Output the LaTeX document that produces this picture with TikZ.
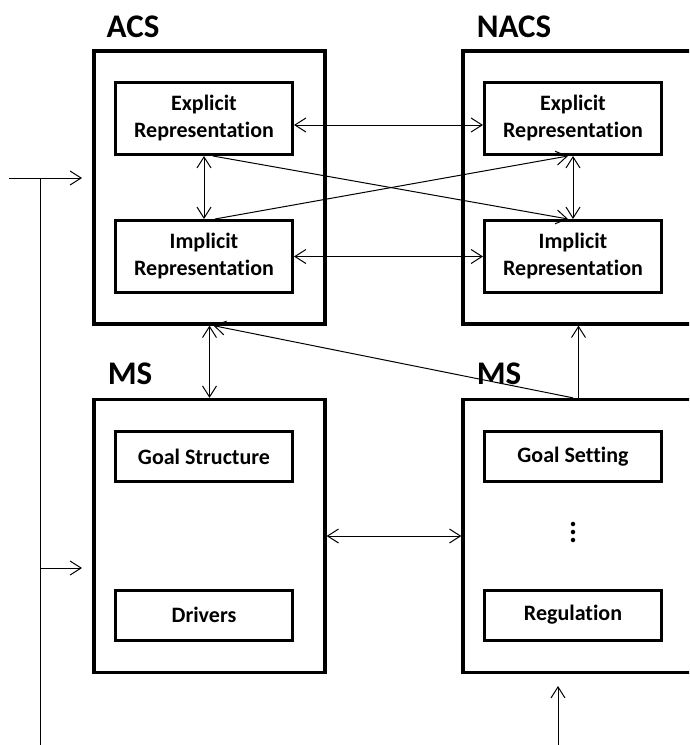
\documentclass[tikz,border=0pt]{standalone}
\usepackage{fontspec}
\setmainfont[Ligatures=NoCommon]{Carlito}
\usetikzlibrary{arrows.meta}
\begin{document}
\begin{tikzpicture}[x=1pt,y=-1pt,
  outerbox/.style={draw,line width=3.3pt,minimum width=231pt,minimum height=273pt,inner sep=0pt},
  innerbox/.style={draw,line width=3pt,minimum width=177pt,minimum height=72pt,align=center,inner sep=0pt,
     font=\fontsize{22}{27}\selectfont\bfseries},
  smallbox/.style={innerbox,minimum height=50pt},
  title/.style={font=\fontsize{33}{33}\selectfont\bfseries,inner sep=0pt},
  dot/.style={circle,fill,inner sep=0pt,minimum size=4.5pt},
  conn/.style={line width=1pt,-{Straight Barb[length=11pt,width=14pt,line width=1pt]}},
  dconn/.style={line width=1pt,{Straight Barb[length=11pt,width=14pt,line width=1pt]}-{Straight Barb[length=11pt,width=14pt,line width=1pt]}},
  plain/.style={line width=1pt}]
\useasboundingbox (0,0) rectangle (689,745);
\clip (0,0) rectangle (689,745);
\fill[white] (0,0) rectangle (689,745);
% outer boxes
\node[outerbox] (acs) at (209.5,187.5) {};
\node[outerbox] (nacs) at (578.5,187.5) {};
\node[outerbox] (ms) at (209.5,536) {};
\node[outerbox] (msr) at (578.5,536) {};
% titles
\node[title] (tacs) at (133,27) {ACS};
\node[title] (tnacs) at (514,27) {NACS};
\node[title] (tms) at (130,374) {MS};
\node[title] (tmsr) at (499,374) {MS};
% inner boxes
\node[innerbox] (ae) at (204,118.5) {Explicit\\Representation};
\node[innerbox] (ai) at (204,256.5) {Implicit\\Representation};
\node[innerbox] (ne) at (573,118.5) {Explicit\\Representation};
\node[innerbox] (ni) at (573,256.5) {Implicit\\Representation};
\node[smallbox] (gs) at (204,456.5) {Goal Structure};
\node[smallbox] (dr) at (204,615) {Drivers};
\node[smallbox] (gset) at (573,456.5) {Goal Setting};
\node[smallbox] (reg) at (573,615) {Regulation};
\node[dot] (d1) at (573,524) {};
\node[dot] (d2) at (573,532) {};
\node[dot] (d3) at (573,540) {};
% connectors within
\draw[dconn] ([yshift=-6.5pt]ae.east) -- ([yshift=-6.5pt]ne.west);
\draw[dconn] (ai.east) -- (ni.west);
\draw[dconn] (ae.south) -- (ai.north);
\draw[dconn] (ne.south) -- (ni.north);
\draw[conn] ([xshift=9pt]ae.south) -- ([xshift=-5pt]ni.north);
\draw[conn] ([xshift=11pt]ai.north) -- ([xshift=-5pt]ne.south);
% between layers
\draw[dconn] (acs.south) -- (ms.north);
\draw[conn] ([xshift=-5.5pt]msr.north) -- ([xshift=4pt]acs.south);
\draw[conn] (msr.north) -- (nacs.south);
\draw[dconn] (ms.east) -- (msr.west);
% feedback lines
\coordinate (fbtop) at (40,178);
\coordinate (fbleft) at (9,178);
\coordinate (fbbot) at (40,745);
\coordinate (fbmid) at (40,568);
\coordinate (acsin) at (82,178);
\coordinate (msin) at (82,568);
\draw[plain] (fbtop) -- (fbbot);
\draw[conn] (fbleft) -- (acsin);
\draw[conn] (fbmid) -- (msin);
\coordinate (inbot) at (558,745);
\coordinate (intop) at (558,686);
\draw[conn] (inbot) -- (intop);
\end{tikzpicture}
\end{document}
